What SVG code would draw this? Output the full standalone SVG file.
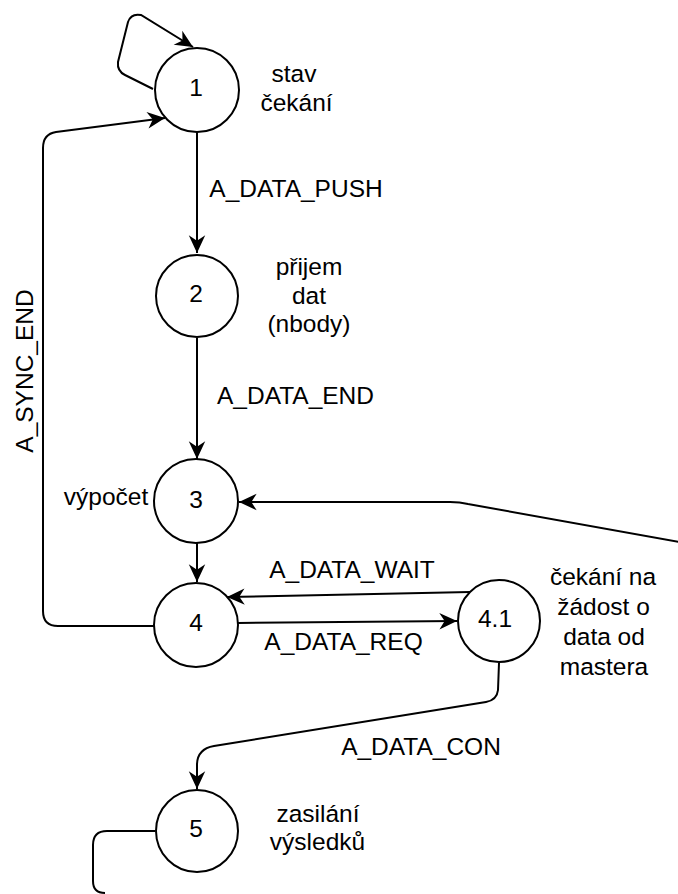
<svg xmlns="http://www.w3.org/2000/svg" width="678" height="894" viewBox="0 0 678 894">
  <style>
    .st { fill: #ffffff; stroke: #000000; stroke-width: 2; }
    .e { fill: none; stroke: #000000; stroke-width: 2; }
    text { font-family: "Liberation Sans", Arial, Helvetica, sans-serif; font-size: 24.5px; fill: #000000; }
    .c { text-anchor: middle; }
  </style>
  <defs>
    <marker id="arr" markerUnits="userSpaceOnUse" markerWidth="20" markerHeight="20" viewBox="-16 -8 17 16" refX="0" refY="0" orient="auto">
      <path d="M0,0 L-15,-7 L-10.5,0 L-15,7 Z" fill="#000000"/>
    </marker>
  </defs>
  <rect width="678" height="894" fill="#ffffff"/>

  <g id="connectors">
    <path class="e" d="M153,89 L125,75 Q117,71 118,62 L128,22 Q131,13 141,15 L193,47" marker-end="url(#arr)"/>
    <path class="e" d="M197,132 L197,253" marker-end="url(#arr)"/>
    <path class="e" d="M197,338 L197,459" marker-end="url(#arr)"/>
    <path class="e" d="M197,543 L197,582" marker-end="url(#arr)"/>
    <path class="e" d="M154,626 L58,626 Q43,626 43,611 L43,148 Q43,134 56,132 L165,118" marker-end="url(#arr)"/>
    <path class="e" d="M470,592 L227,597" marker-end="url(#arr)"/>
    <path class="e" d="M238,623 L457,621" marker-end="url(#arr)"/>
    <path class="e" d="M685,543 L468,504 Q460,502 450,502 L239,502" marker-end="url(#arr)"/>
    <path class="e" d="M499,663 L498,690 Q497,700 486,702 L214,746 Q197,749 197,765 L197,789" marker-end="url(#arr)"/>
    <path class="e" d="M155,831 L107,831 Q93,831 93,845 L93,881 Q93,893 105,893"/>
  </g>

  <g id="edge-labels">
    <text class="c" x="296" y="197">A_DATA_PUSH</text>
    <text class="c" x="295.5" y="404">A_DATA_END</text>
    <text class="c" transform="translate(33,371) rotate(-90)" x="0" y="0">A_SYNC_END</text>
    <text class="c" x="352" y="578">A_DATA_WAIT</text>
    <text class="c" x="343.5" y="650">A_DATA_REQ</text>
    <text class="c" x="421" y="755">A_DATA_CON</text>
  </g>

  <g id="node-1">
    <circle class="st" cx="197" cy="90" r="42"/>
    <text class="c" x="196" y="96">1</text>
    <text class="c" x="294" y="82">stav</text>
    <text class="c" x="296.5" y="111">čekání</text>
  </g>
  <g id="node-2">
    <circle class="st" cx="197" cy="296" r="41"/>
    <text class="c" x="196" y="302">2</text>
    <text class="c" x="309" y="275">přijem</text>
    <text class="c" x="309" y="303.5">dat</text>
    <text class="c" x="309" y="332">(nbody)</text>
  </g>
  <g id="node-3">
    <circle class="st" cx="196" cy="501" r="42"/>
    <text class="c" x="196" y="508">3</text>
    <text class="c" x="106" y="505">výpočet</text>
  </g>
  <g id="node-4">
    <circle class="st" cx="196" cy="625" r="42"/>
    <text class="c" x="196" y="631">4</text>
  </g>
  <g id="node-4-1">
    <circle class="st" cx="499" cy="621" r="41"/>
    <text class="c" x="495" y="627">4.1</text>
    <text class="c" x="603" y="585">čekání na</text>
    <text class="c" x="603.5" y="615">žádost o</text>
    <text class="c" x="604" y="645">data od</text>
    <text class="c" x="604" y="675">mastera</text>
  </g>
  <g id="node-5">
    <circle class="st" cx="197" cy="831" r="41"/>
    <text class="c" x="196" y="837">5</text>
    <text class="c" x="318" y="822">zasilání</text>
    <text class="c" x="317.5" y="850">výsledků</text>
  </g>
</svg>
